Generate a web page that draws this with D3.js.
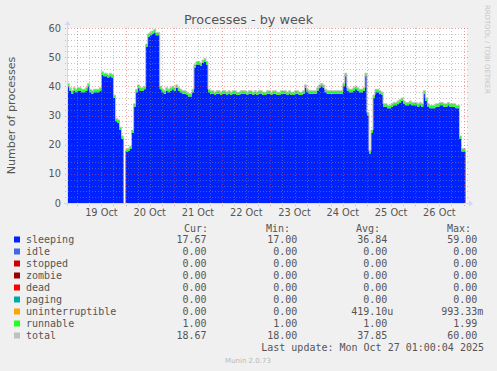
<!DOCTYPE html>
<html><head><meta charset="utf-8">
<script src="https://cdn.jsdelivr.net/npm/d3@7"></script>
<style>html,body{margin:0;padding:0;background:#F0F0F0;} svg{display:block}</style>
</head><body>
<svg id="c" width="497" height="371"></svg>
<script>
// ---------- data ----------
const chartTitle = "Processes - by week";
const yAxisLabel = "Number of processes";
const watermark = "RRDTOOL / TOBI OETIKER";
const lastUpdate = "Last update: Mon Oct 27 01:00:04 2025";
const footer = "Munin 2.0.73";

// hourly samples starting 2025-10-18 19:00 UTC
const sampleStart = Date.UTC(2025, 9, 18, 19);
const sleeping = [
  40, 38.5, 37.5, 38.5, 38, 38.5, 38.5, 38, 38, 38.5,
  40, 38, 37.5, 38, 38, 38, 38.5, 44, 43.5, 43.5,
  43, 43.5, 43, 36, 28, 27.5, 25, 22, null, 17.5,
  17.8, 18.5, 24, 33, 38, 39.5, 38.5, 38.5, 39, 53.5,
  57, 57.5, 58, 58.5, 57.5, 57.5, 39, 38, 37.5, 38.5,
  38, 38.5, 39, 38.5, 39.5, 38.5, 38, 37.5, 37.5, 37,
  36.5, 36.5, 38, 46.5, 47.5, 47.5, 47, 48, 48.5, 47.5,
  38, 37.5, 37.5, 37, 37.5, 37.5, 37, 37.5, 37.5, 37,
  37.5, 37, 37.5, 37.5, 37, 37, 37.5, 37.5, 37.5, 37,
  37.5, 37.5, 37, 37.5, 37, 37.5, 37.5, 37, 37, 37.5,
  37.5, 37, 37.5, 37.5, 37, 37, 37.5, 37.5, 37.5, 37,
  37.5, 37, 37, 37.5, 37.5, 37, 37, 37.5, 39.5, 38,
  37.5, 37.5, 37.5, 37.5, 38.5, 39.5, 40, 39.5, 38, 37.5,
  37.5, 37.5, 37.5, 37.5, 37.5, 37.5, 37.5, 40, 43.5, 38.5,
  38, 38, 38.5, 39, 38.5, 38, 38, 38.5, 43.5, 30,
  17, 24, 36, 38, 38, 37.5, 37, 33, 33, 32.5,
  32.5, 33, 33.5, 33.5, 34, 34.5, 35, 34, 33.5, 33.5,
  34, 33.5, 33.5, 33.5, 33, 33.5, 33, 37.5, 35, 33,
  32.5, 32.5, 32.5, 33, 33, 33.5, 33.5, 33, 33, 33.5,
  33, 33, 33, 32.5, 32.5, 22, 17.7, 17.67
];
const runnable = [
  1,1,1,1,1,1,1,1,1,1,
  1,1,1,1,1,1,1,1,1,1,
  1,1,1,1,1,1,1,1,null,1,
  1,1,1,1,1,1,1,1,1,1,
  1,1,1,1,1,1,1,1,1,1,
  1,1,1,1,1,1,1,1,1,1,
  1,1,1,1,1,1,1,1,1,1,
  1,1,1,1,1,1,1,1,1,1,
  1,1,1,1,1,1,1,1,1,1,
  1,1,1,1,1,1,1,1,1,1,
  1,1,1,1,1,1,1,1,1,1,
  1,1,1,1,1,1,1,1,1,1,
  1,1,1,1,1,1,1,1,1,1,
  1,1,1,1,1,1,1,1,1,1,
  1,1,1,1,1,1,1,1,1,1,
  1,1,1,1,1,1,1,1,1,1,
  1,1,1,1,1,1,1,1,1,1,
  1,1,1,1,1,1,1,1,1,1,
  1,1,1,1,1,1,1,1,1,1,
  1,1,1,1,1,1,1,1
];

const yTickValues = [0, 10, 20, 30, 40, 50, 60];
const dayLabels = ["19 Oct", "20 Oct", "21 Oct", "22 Oct", "23 Oct", "24 Oct", "25 Oct", "26 Oct"];

const legendNames = ["sleeping", "idle", "stopped", "zombie", "dead", "paging", "uninterruptible", "runnable", "total"];
const legendColors = ["#0022ff", "#4169e1", "#cc0000", "#990000", "#ff0000", "#00aaaa", "#ffa500", "#22ff22", "#c0c0c0"];
const legendHeaders = ["Cur:", "Min:", "Avg:", "Max:"];
const curVals = ["17.67", "0.00", "0.00", "0.00", "0.00", "0.00", "0.00", "1.00", "18.67"];
const minVals = ["17.00", "0.00", "0.00", "0.00", "0.00", "0.00", "0.00", "1.00", "18.00"];
const avgVals = ["36.84", "0.00", "0.00", "0.00", "0.00", "0.00", "419.10u", "1.00", "37.85"];
const maxVals = ["59.00", "0.00", "0.00", "0.00", "0.00", "0.00", "993.33m", "1.99", "60.00"];

// ---------- drawing ----------
const svg = d3.select("#c");
const W = 497, H = 371;
const L = 67, R = 467, T = 28, B = 203;
const HOUR = 3600e3;

const x = d3.scaleUtc()
  .domain([new Date(Date.UTC(2025, 9, 18, 18, 54)), new Date(Date.UTC(2025, 9, 27, 1, 44))])
  .range([L, R]);
const y = d3.scaleLinear().domain([0, 60]).range([B, T]);

svg.append("rect").attr("width", W).attr("height", H).attr("fill", "#F0F0F0");
svg.append("rect").attr("x", L).attr("y", T).attr("width", R - L).attr("height", B - T).attr("fill", "#ffffff");

// step points
const pts = [];
sleeping.forEach((v, i) => {
  const t0 = sampleStart + i * HOUR, t1 = t0 + HOUR;
  if (v == null || runnable[i] == null) { pts.push(null); return; }
  pts.push({ t: new Date(t0), s: v, r: runnable[i] });
  pts.push({ t: new Date(t1), s: v, r: runnable[i] });
});

const g = svg.append("g");
const areaS = d3.area().defined(d => d != null)
  .x(d => x(d.t)).y0(y(0)).y1(d => y(d.s));
const areaR = d3.area().defined(d => d != null)
  .x(d => x(d.t)).y0(d => y(d.s)).y1(d => y(d.s + d.r));
const lineT = d3.line().defined(d => d != null)
  .x(d => x(d.t)).y(d => y(d.s + d.r));

g.append("path").attr("d", areaS(pts)).attr("fill", legendColors[0]);
g.append("path").attr("d", areaR(pts)).attr("fill", legendColors[7]);
g.append("path").attr("d", lineT(pts)).attr("fill", "none").attr("stroke", legendColors[8]).attr("stroke-width", 1);

// grid (drawn on top of data as rrdtool does)
const grid = svg.append("g");
const minorCol = "rgba(143,143,143,0.5)", majorCol = "rgba(222,79,79,0.5)";
const dash = "1,2";
const px = v => Math.round(v) + 0.5;
// horizontal
d3.range(2, 61, 2).forEach(v => {
  const major = v % 10 === 0;
  grid.append("line").attr("x1", L - 2).attr("x2", R + 2)
    .attr("y1", px(y(v))).attr("y2", px(y(v)))
    .attr("stroke", major ? majorCol : minorCol).attr("stroke-dasharray", dash);
});
// vertical
const [d0, d1] = x.domain();
d3.utcHour.every(6).range(d0, d1).forEach(t => {
  const major = t.getUTCHours() === 0;
  grid.append("line").attr("x1", px(x(t))).attr("x2", px(x(t)))
    .attr("y1", T).attr("y2", B + 3)
    .attr("stroke", major ? majorCol : minorCol).attr("stroke-dasharray", dash);
});

// axes
const axisCol = "#CFD6F8";
svg.append("line").attr("x1", L - 3).attr("x2", R + 3).attr("y1", B + 0.5).attr("y2", B + 0.5).attr("stroke", axisCol);
svg.append("line").attr("x1", L + 0.5).attr("x2", L + 0.5).attr("y1", B + 3).attr("y2", T - 4).attr("stroke", axisCol);
svg.append("path").attr("d", `M${R + 2},${B - 2.5} L${R + 6},${B + 0.5} L${R + 2},${B + 3.5} Z`).attr("fill", axisCol);
svg.append("path").attr("d", `M${L - 2.5},${T - 3} L${L + 0.5},${T - 7} L${L + 3.5},${T - 3} Z`).attr("fill", axisCol);

const fontCol = "#555555";
// y tick labels
svg.append("g").selectAll("text").data(yTickValues).join("text")
  .attr("x", 61).attr("y", d => y(d) + 3.6)
  .attr("text-anchor", "end").attr("font-family", "DejaVu Sans").attr("font-size", 9.8)
  .attr("fill", fontCol).text(d => d);
// x labels at noon
svg.append("g").selectAll("text").data(dayLabels).join("text")
  .attr("x", (d, i) => x(new Date(Date.UTC(2025, 9, 19 + i, 12))))
  .attr("y", 215.5).attr("text-anchor", "middle")
  .attr("font-family", "DejaVu Sans").attr("font-size", 9.8).attr("fill", fontCol).text(d => d);

// title
svg.append("text").attr("x", 248.5).attr("y", 24).attr("text-anchor", "middle")
  .attr("font-family", "DejaVu Sans").attr("font-size", 12.8).attr("fill", fontCol).text(chartTitle);
// y label
svg.append("text").attr("transform", `translate(14.5,115.5) rotate(-90)`).attr("text-anchor", "middle")
  .attr("font-family", "DejaVu Sans").attr("font-size", 11.1).attr("fill", fontCol).text(yAxisLabel);
// watermark
svg.append("text").attr("transform", `translate(485,5) rotate(90)`).attr("text-anchor", "start")
  .attr("font-family", "DejaVu Sans").attr("font-size", 6.9).attr("fill", "#c4c4c4").text(watermark);

// legend
const mono = "DejaVu Sans Mono";
const lg = svg.append("g").attr("font-family", mono).attr("font-size", 10).attr("fill", fontCol);
const headerX = [184, 266, 356, 447];
const colEnds = [206.5, 297.3, 387.3, 477.3];
legendHeaders.forEach((h, i) => lg.append("text").attr("x", headerX[i]).attr("y", 231.8).text(h));
const cols = [curVals, minVals, avgVals, maxVals];
legendNames.forEach((n, r) => {
  const by = 243 + 12 * r;
  lg.append("rect").attr("x", 14).attr("y", by - 6.5).attr("width", 6).attr("height", 6).attr("fill", legendColors[r]);
  lg.append("text").attr("x", 26).attr("y", by).text(n);
  cols.forEach((col, c) => {
    const m = col[r].match(/^([\d.]+)([a-zA-Z]?)$/);
    lg.append("text").attr("x", colEnds[c]).attr("y", by).attr("text-anchor", "end").text(m[1]);
    if (m[2]) lg.append("text").attr("x", colEnds[c]).attr("y", by).text(m[2]);
  });
});
lg.append("text").attr("x", 484).attr("y", 351).attr("text-anchor", "end").text(lastUpdate);
svg.append("text").attr("x", 248).attr("y", 363).attr("text-anchor", "middle")
  .attr("font-family", "DejaVu Sans").attr("font-size", 7).attr("fill", "#b8b8b8").text(footer);
</script>
</body></html>
